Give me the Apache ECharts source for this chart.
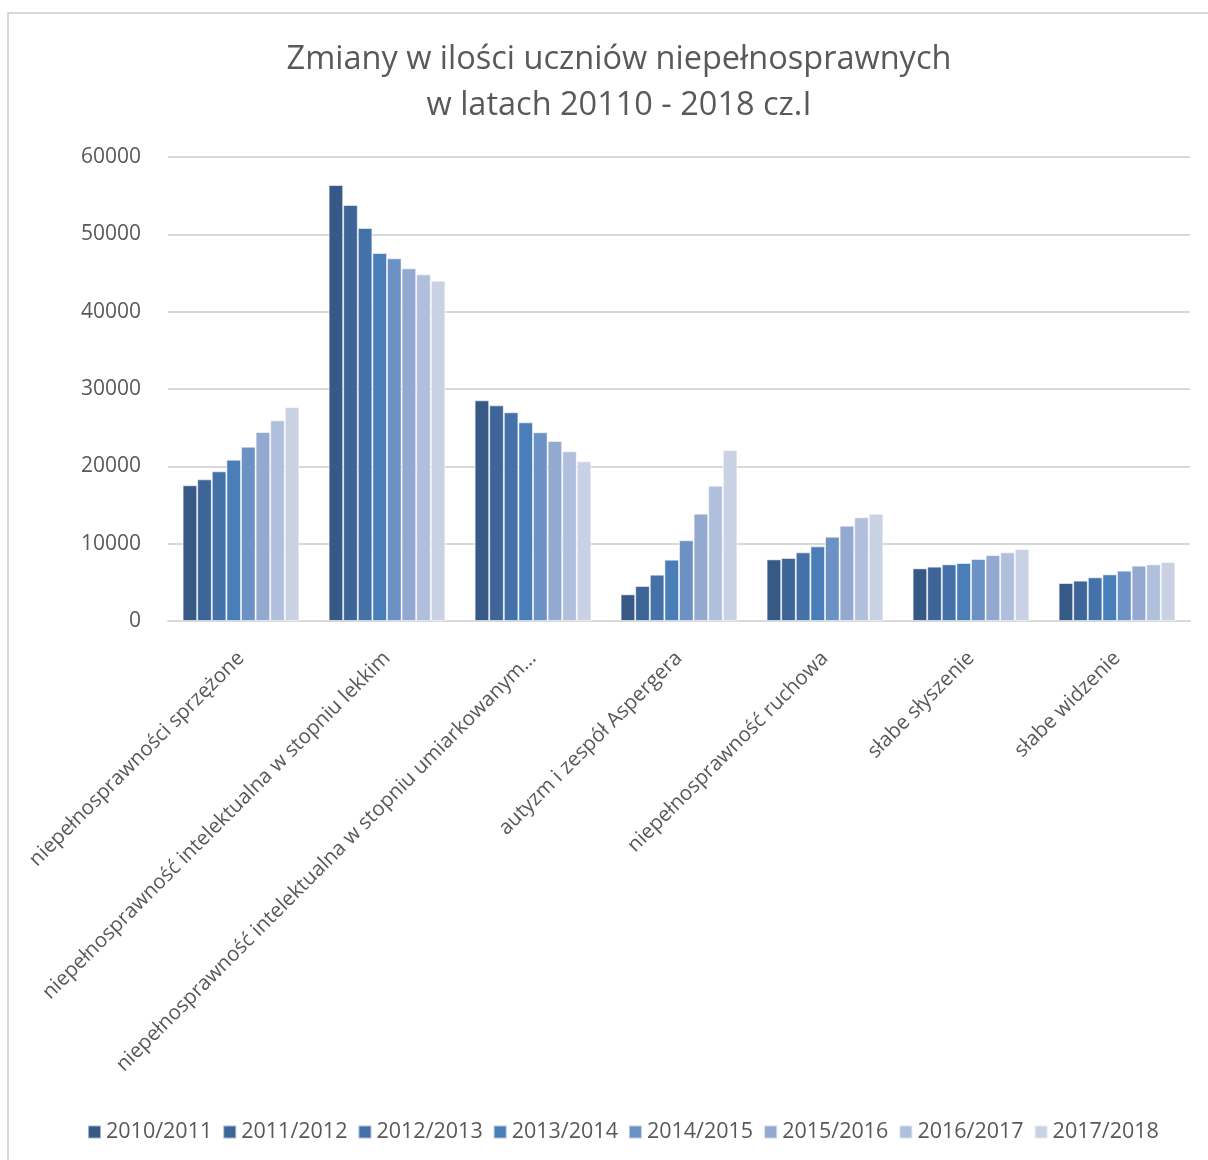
<!DOCTYPE html>
<html>
<head>
<meta charset="utf-8">
<script src="https://cdn.jsdelivr.net/npm/echarts@6/dist/echarts.min.js"></script>
<style>
  html, body { margin: 0; padding: 0; background: #fff; }
  #chart { width: 1208px; height: 1160px; }
</style>
</head>
<body>
<div id="chart"></div>
<script>
// kategorie niepełnosprawności
const categories = [
  "niepełnosprawności sprzężone",
  "niepełnosprawność intelektualna w stopniu lekkim",
  "niepełnosprawność intelektualna w stopniu umiarkowanym…",
  "autyzm i zespół Aspergera",
  "niepełnosprawność ruchowa",
  "słabe słyszenie",
  "słabe widzenie",
];
const years = ["2010/2011", "2011/2012", "2012/2013", "2013/2014", "2014/2015", "2015/2016", "2016/2017", "2017/2018"];
const yTicks = [0, 10000, 20000, 30000, 40000, 50000, 60000];

// wartości per rok (kolejność jak categories)
const y2010 = [17550, 56380, 28540, 3450, 7970, 6810, 4910];
const y2011 = [18320, 53790, 27890, 4530, 8150, 7030, 5220];
const y2012 = [19360, 50820, 26990, 5990, 8880, 7330, 5650];
const y2013 = [20860, 47590, 25690, 7930, 9650, 7500, 6030];
const y2014 = [22540, 46900, 24400, 10430, 10900, 8020, 6510];
const y2015 = [24440, 45600, 23280, 13880, 12330, 8530, 7160];
const y2016 = [25950, 44830, 21940, 17500, 13410, 8880, 7330];
const y2017 = [27670, 44010, 20650, 22110, 13880, 9310, 7630];
const yearValues = [y2010, y2011, y2012, y2013, y2014, y2015, y2016, y2017];

const colors = ["#365a85", "#3d6598", "#4472a8", "#4a7eb9", "#6b91c5", "#94a9d0", "#b0c0dc", "#c9d2e5"];
const textColor = "#595959";
const fontFamily = "'Open Sans', 'Noto Sans', sans-serif";

const chart = echarts.init(document.getElementById("chart"));

const option = {
  animation: false,
  color: colors,
  textStyle: { fontFamily: fontFamily },
  title: {
    text: "Zmiany w ilości uczniów niepełnosprawnych\nw latach 20110 - 2018 cz.I",
    left: 614,
    textAlign: "center",
    top: 32,
    textStyle: {
      color: textColor,
      fontSize: 32.5,
      fontWeight: "normal",
      lineHeight: 46,
      fontFamily: fontFamily,
    },
  },
  graphic: [
    {
      type: "rect",
      silent: true,
      shape: { x: 8, y: 13, width: 1300, height: 1300 },
      style: { fill: "none", stroke: "#d9d9d9", lineWidth: 2 },
    },
  ],
  legend: {
    data: years,
    top: 1116,
    left: 82,
    icon: "rect",
    itemWidth: 13,
    itemHeight: 13,
    itemGap: 10,
    textStyle: { color: textColor, fontSize: 21.5, fontFamily: fontFamily },
  },
  grid: {
    left: 168,
    right: 18,
    top: 157,
    bottom: 539,
    containLabel: false,
  },
  xAxis: {
    type: "category",
    data: categories,
    axisLine: { lineStyle: { color: "#d9d9d9", width: 2 } },
    axisTick: { show: false },
    axisLabel: {
      rotate: 45,
      interval: 0,
      margin: 34,
      color: textColor,
      fontSize: 20.5,
      fontFamily: fontFamily,
    },
  },
  yAxis: {
    type: "value",
    min: 0,
    max: 60000,
    interval: 10000,
    axisLine: { show: false },
    axisTick: { show: false },
    splitLine: { lineStyle: { color: "#d9d9d9", width: 2 } },
    axisLabel: {
      margin: 27,
      color: textColor,
      fontSize: 21,
      fontFamily: fontFamily,
      formatter: (v) => (yTicks.indexOf(v) >= 0 ? String(v) : ""),
    },
  },
  series: years.map((name, i) => ({
    name: name,
    type: "bar",
    data: yearValues[i],
    barGap: "0%",
    barCategoryGap: "20%",
    itemStyle: {
      color: colors[i],
      borderColor: "rgba(255,255,255,0.55)",
      borderWidth: 1,
    },
  })),
};

chart.setOption(option);
</script>
</body>
</html>
